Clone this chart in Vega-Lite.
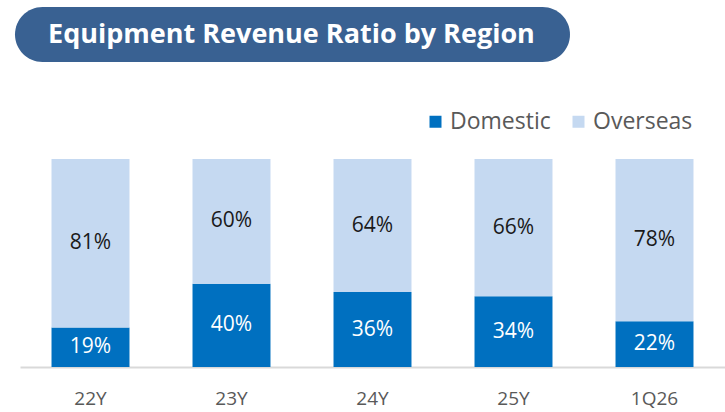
{
  "$schema": "https://vega.github.io/schema/vega-lite/v6.json",
  "autosize": "none",
  "width": 725,
  "height": 367,
  "padding": {"left": 0, "top": 0, "right": 0, "bottom": 45},
  "background": "white",
  "view": {"stroke": null},
  "config": {"font": "Open Sans"},
  "datasets": {
    "ratio": [
      {"period": "22Y", "region": "Domestic", "value": 0.19},
      {"period": "22Y", "region": "Overseas", "value": 0.81},
      {"period": "23Y", "region": "Domestic", "value": 0.40},
      {"period": "23Y", "region": "Overseas", "value": 0.60},
      {"period": "24Y", "region": "Domestic", "value": 0.36},
      {"period": "24Y", "region": "Overseas", "value": 0.64},
      {"period": "25Y", "region": "Domestic", "value": 0.34},
      {"period": "25Y", "region": "Overseas", "value": 0.66},
      {"period": "1Q26", "region": "Domestic", "value": 0.22},
      {"period": "1Q26", "region": "Overseas", "value": 0.78}
    ],
    "heading": [{"label": "Equipment Revenue Ratio by Region"}]
  },
  "layer": [
    {
      "data": {"name": "ratio"},
      "layer": [
        {
          "mark": {"type": "bar"},
          "encoding": {
            "x": {
              "field": "period", "type": "nominal", "sort": ["22Y", "23Y", "24Y", "25Y", "1Q26"],
              "scale": {"type": "band", "range": [20, 725], "paddingInner": 0.447, "paddingOuter": 0.2235},
              "axis": {"title": null, "labelAngle": 0, "ticks": false, "grid": false, "domainColor": "#D9D9D9", "domainWidth": 2, "labelColor": "#595959", "labelFontSize": 19, "labelFont": "Open Sans", "labelPadding": 22}
            },
            "y": {
              "field": "value", "type": "quantitative", "stack": "zero",
              "scale": {"domain": [0, 1.764], "nice": false},
              "axis": null
            },
            "color": {
              "field": "region", "type": "nominal",
              "scale": {"domain": ["Domestic", "Overseas"], "range": ["#0070C0", "#C5D9F1"]},
              "legend": {"title": null, "orient": "none", "legendX": 424, "legendY": 110, "direction": "horizontal", "symbolType": "square", "symbolSize": 144, "symbolStrokeWidth": 0, "labelFontSize": 23, "labelColor": "#595959", "labelFont": "Open Sans", "labelOffset": 3, "columnPadding": 16, "padding": 0}
            },
            "order": {"field": "region", "sort": "ascending"}
          }
        },
        {
          "transform": [
            {"stack": "value", "groupby": ["period"], "sort": [{"field": "region", "order": "ascending"}], "as": ["v0", "v1"]},
            {"calculate": "(datum.v0 + datum.v1) / 2", "as": "mid"}
          ],
          "mark": {"type": "text", "fontSize": 21, "font": "Open Sans", "baseline": "middle"},
          "encoding": {
            "x": {"field": "period", "type": "nominal", "sort": ["22Y", "23Y", "24Y", "25Y", "1Q26"]},
            "y": {"field": "mid", "type": "quantitative", "scale": {"domain": [0, 1.764], "nice": false}},
            "text": {"field": "value", "type": "quantitative", "format": ".0%"},
            "color": {"condition": {"test": "datum.region === 'Domestic'", "value": "#FFFFFF"}, "value": "#1A1A1A"}
          }
        }
      ]
    },
    {
      "data": {"name": "heading"},
      "layer": [
        {
          "mark": {"type": "rect", "cornerRadius": 27.5, "color": "#396192"},
          "encoding": {
            "x": {"datum": 2.07, "type": "quantitative", "scale": {"domain": [0, 100], "nice": false}, "axis": null},
            "x2": {"datum": 78.62},
            "y": {"datum": 1.466, "type": "quantitative", "scale": {"domain": [0, 1.764], "nice": false}},
            "y2": {"datum": 1.730}
          }
        },
        {
          "mark": {"type": "text", "font": "Open Sans", "fontWeight": "bold", "fontSize": 27, "color": "#FFFFFF", "baseline": "middle", "align": "center"},
          "encoding": {
            "x": {"datum": 40.2, "type": "quantitative", "scale": {"domain": [0, 100], "nice": false}, "axis": null},
            "y": {"datum": 1.596, "type": "quantitative", "scale": {"domain": [0, 1.764], "nice": false}},
            "text": {"field": "label"}
          }
        }
      ]
    }
  ],
  "resolve": {"scale": {"x": "independent"}}
}
